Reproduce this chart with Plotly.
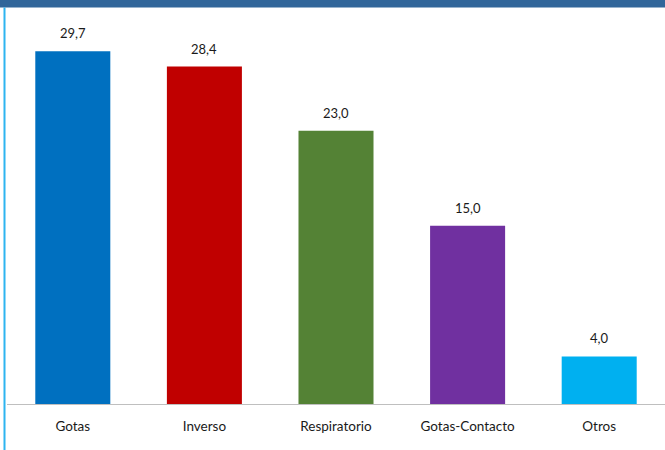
import plotly.graph_objects as go

categories = ["Gotas", "Inverso", "Respiratorio", "Gotas-Contacto", "Otros"]
values = [29.7, 28.4, 23.0, 15.0, 4.0]
colors = ["#0070C0", "#C00000", "#548235", "#7030A0", "#00B0F0"]

fig = go.Figure()
fig.add_trace(go.Bar(
    x=categories, y=values, marker=dict(color=colors, line=dict(width=0)),
    hoverinfo="skip",
))

for c, v in zip(categories, values):
    fig.add_annotation(x=c, y=v, text=f"{v:.1f}".replace(".", ","),
                       showarrow=False, yanchor="bottom", yshift=8,
                       font=dict(size=13, color="#1a1a1a", family="Lato, Noto Sans, sans-serif"))

top_px = 8
plot_h = 450 - top_px - 46
def py(p):
    return (404 - p) / plot_h

fig.add_shape(type="rect", xref="paper", yref="paper",
              x0=-0.02, x1=1.02, y0=py(7.5), y1=py(-2),
              fillcolor="#31669A", line=dict(width=0), layer="above")
fig.add_shape(type="line", xref="paper", yref="paper",
              x0=(4.5 - 7) / 658, x1=(4.5 - 7) / 658, y0=py(7.5), y1=py(452),
              line=dict(color="#2DB4F0", width=2))

fig.update_layout(
    width=665, height=450,
    margin=dict(l=7, r=0, t=top_px, b=46),
    plot_bgcolor="white", paper_bgcolor="white",
    bargap=0.43, showlegend=False,
    font=dict(family="Lato, Noto Sans, sans-serif", size=13, color="#1a1a1a"),
    xaxis=dict(showline=True, linecolor="#BFBFBF", linewidth=1, ticks="",
               ticklabelstandoff=10, showgrid=False, fixedrange=True,
               tickfont=dict(size=13.5, color="#1a1a1a")),
    yaxis=dict(range=[0, plot_h / 11.88], visible=False, showgrid=False,
               zeroline=False, fixedrange=True),
)

fig.write_html("out.html", config={"displayModeBar": False},
               post_script="document.body.style.margin='0';document.body.style.overflow='hidden';")
